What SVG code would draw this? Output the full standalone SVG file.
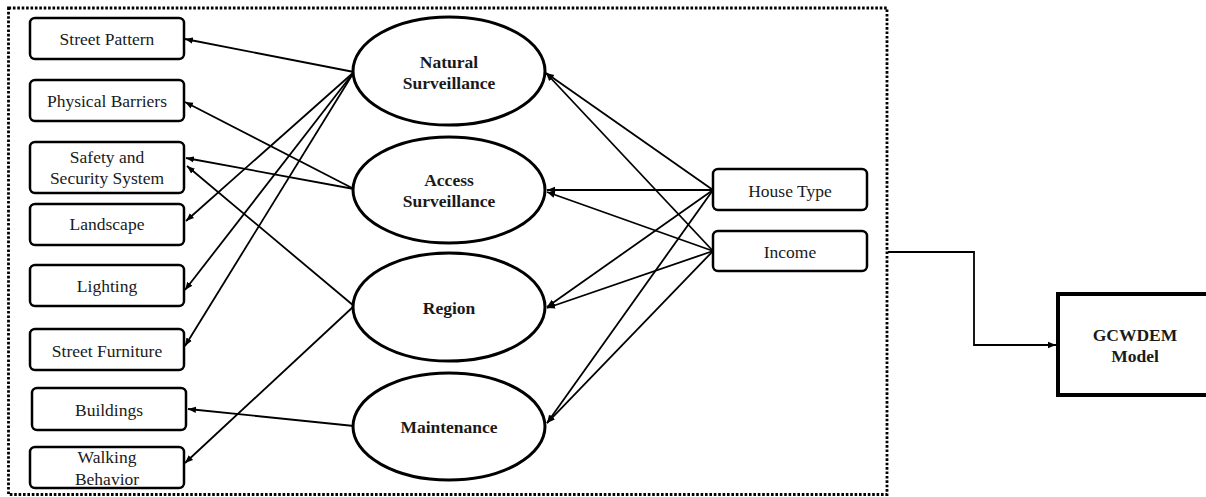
<svg xmlns="http://www.w3.org/2000/svg" width="1206" height="497" viewBox="0 0 1206 497">
<defs>
<marker id="ah" viewBox="0 0 10 10" refX="10" refY="5" markerWidth="8" markerHeight="8" markerUnits="userSpaceOnUse" orient="auto">
<path d="M0,1 L10,5 L0,9 Z" fill="#000"/>
</marker>
<style>
.box{fill:#fff;stroke:#000;stroke-width:2.5}
.ell{fill:#fff;stroke:#000;stroke-width:3}
.t{font-family:"Liberation Serif","Times New Roman",serif;font-size:17.5px;fill:#1a1a1a;text-anchor:middle}
.b{font-weight:bold}
.c{fill:none;stroke:#000;stroke-width:1.8;marker-end:url(#ah)}
</style>
</defs>
<rect x="0" y="0" width="1206" height="497" fill="#fff"/>
<rect id="frame" x="8.5" y="8" width="878.5" height="486.5" fill="none" stroke="#000" stroke-width="2.8" stroke-dasharray="2.6 1.8"/>

<g id="connectors">
<line class="c" x1="354" y1="72" x2="185" y2="39"/>
<line class="c" x1="354" y1="72" x2="186" y2="221"/>
<line class="c" x1="354" y1="72" x2="185" y2="290"/>
<line class="c" x1="354" y1="72" x2="185" y2="346"/>
<line class="c" x1="354" y1="189" x2="185" y2="102"/>
<line class="c" x1="354" y1="189" x2="186" y2="158"/>
<line class="c" x1="354" y1="306" x2="187" y2="166"/>
<line class="c" x1="354" y1="306" x2="185" y2="463"/>
<line class="c" x1="354" y1="426" x2="188" y2="409"/>
<line class="c" x1="713" y1="190" x2="546" y2="73"/>
<line class="c" x1="713" y1="190" x2="547" y2="190"/>
<line class="c" x1="713" y1="190" x2="547" y2="307"/>
<line class="c" x1="713" y1="190" x2="547" y2="423"/>
<line class="c" x1="713" y1="251" x2="546" y2="73"/>
<line class="c" x1="713" y1="251" x2="547" y2="192"/>
<line class="c" x1="713" y1="251" x2="547" y2="308"/>
<line class="c" x1="713" y1="251" x2="547" y2="423"/>
<polyline class="c" points="888,252 974,252 974,345 1056,345"/>
</g>

<g id="street-pattern"><rect class="box" x="30" y="18" width="154" height="41" rx="5"/><text class="t" x="107" y="45">Street Pattern</text></g>
<g id="physical-barriers"><rect class="box" x="30" y="80" width="154" height="41" rx="5"/><text class="t" x="107" y="107">Physical Barriers</text></g>
<g id="safety-security"><rect class="box" x="30" y="142" width="154" height="51" rx="5"/><text class="t" x="107" y="163">Safety and</text><text class="t" x="107" y="184">Security System</text></g>
<g id="landscape"><rect class="box" x="30" y="204" width="154" height="41" rx="5"/><text class="t" x="107" y="230">Landscape</text></g>
<g id="lighting"><rect class="box" x="30" y="265" width="154" height="41" rx="5"/><text class="t" x="107" y="292">Lighting</text></g>
<g id="street-furniture"><rect class="box" x="30" y="329" width="154" height="41" rx="5"/><text class="t" x="107" y="357">Street Furniture</text></g>
<g id="buildings"><rect class="box" x="32" y="388" width="154" height="42" rx="5"/><text class="t" x="109" y="416">Buildings</text></g>
<g id="walking-behavior"><rect class="box" x="30" y="447" width="154" height="41" rx="5"/><text class="t" x="107" y="463">Walking</text><text class="t" x="107" y="485">Behavior</text></g>

<g id="natural-surveillance"><ellipse class="ell" cx="449" cy="71" rx="96" ry="54"/><text class="t b" x="449" y="68">Natural</text><text class="t b" x="449" y="89">Surveillance</text></g>
<g id="access-surveillance"><ellipse class="ell" cx="449" cy="190" rx="96" ry="53"/><text class="t b" x="449" y="186">Access</text><text class="t b" x="449" y="207">Surveillance</text></g>
<g id="region"><ellipse class="ell" cx="449" cy="307" rx="96" ry="54"/><text class="t b" x="449" y="314">Region</text></g>
<g id="maintenance"><ellipse class="ell" cx="449" cy="426.5" rx="96" ry="53.5"/><text class="t b" x="449" y="433">Maintenance</text></g>

<g id="house-type"><rect class="box" x="713" y="169" width="154" height="41" rx="5"/><text class="t" x="790" y="197">House Type</text></g>
<g id="income"><rect class="box" x="713" y="231" width="154" height="40" rx="5"/><text class="t" x="790" y="258">Income</text></g>

<g id="gcwdem"><rect x="1058" y="294" width="160" height="101" fill="#fff" stroke="#000" stroke-width="4"/><text class="t b" x="1135" y="341">GCWDEM</text><text class="t b" x="1135" y="362">Model</text></g>
</svg>
